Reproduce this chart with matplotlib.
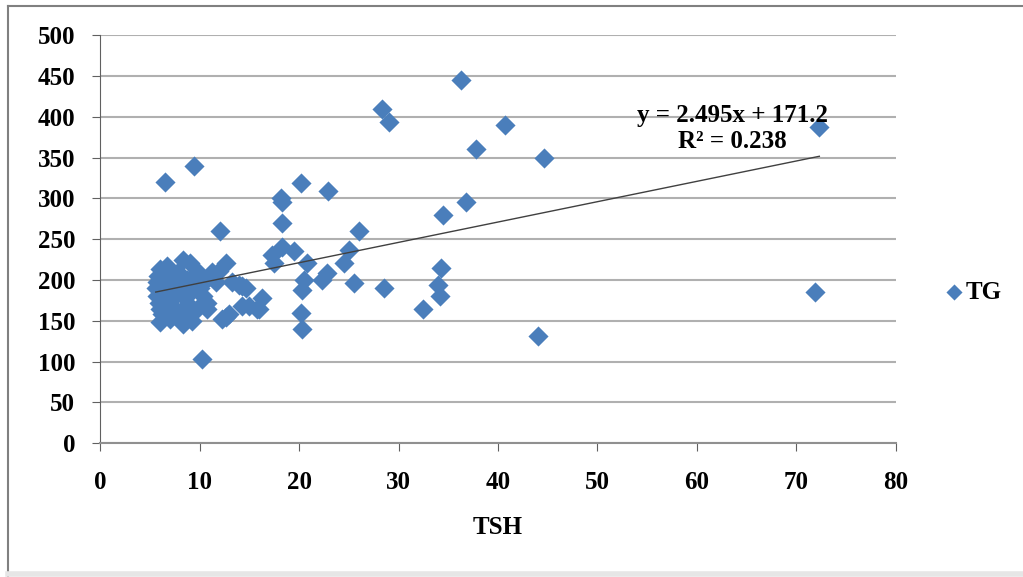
import matplotlib.pyplot as plt
from matplotlib.lines import Line2D
import numpy as np

# TSH vs TG values
tsh = [6.5, 9.4, 10.2, 12.1,
       36.3, 28.3, 29.0, 40.7, 37.8, 44.6, 72.3, 71.9,
       20.2, 22.9, 18.2, 18.3, 36.8, 34.5, 18.3, 26.0,
       17.3, 18.3, 19.5, 17.5, 20.8, 25.0, 24.5, 34.3, 22.8, 22.3,
       20.5, 20.3, 25.5, 28.5, 34.0, 34.2, 32.5, 16.3, 16.0, 20.2,
       20.3, 44.0,
       6.0, 8.3, 9.0, 12.7, 12.0, 11.0, 14.0, 14.7, 5.7, 5.7,
       6.0, 6.0, 7.0, 8.3, 8.0, 9.7, 10.7, 10.3, 9.0, 7.3,
       7.3, 6.7, 11.7, 12.3, 13.0, 15.0, 15.8, 14.3, 13.3, 14.3,
       11.3, 10.7, 12.7, 5.8, 6.3, 6.5, 6.8, 7.0, 7.5, 7.8,
       8.0, 8.5, 8.7, 9.3, 9.5, 6.2, 7.2, 8.5, 9.8, 10.0,
       5.6, 5.9, 7.6, 8.8, 9.2, 10.5]
tg = [320, 340, 103, 260,
      445, 410, 394, 390, 360, 350, 388, 185,
      319, 309, 300, 295, 295, 280, 270, 260,
      231, 240, 235, 221, 221, 237, 221, 215, 209, 200,
      200, 188, 196, 190, 194, 180, 165, 178, 164, 160,
      140, 131,
      213, 225, 221, 221, 211, 204, 194, 190, 197, 180,
      164, 149, 152, 146, 155, 164, 172, 180, 185, 188,
      204, 217, 197, 152, 158, 168, 164, 168, 197, 192,
      210, 164, 155, 205, 185, 170, 195, 175, 165, 210,
      190, 178, 200, 205, 195, 158, 160, 162, 210, 190,
      190, 172, 182, 170, 150, 200]

# trendline from the equation shown on the chart
slope = 2.495
intercept = 171.2
r2 = 0.238

blue = "#4a7ebb"
plt.rcParams["font.family"] = ["Liberation Serif", "DejaVu Serif"]
plt.rcParams["font.weight"] = "bold"
fs = 18

fig = plt.figure(figsize=(10.23, 5.77), dpi=100)
ax = fig.add_axes([0.0978, 0.232, 0.778, 0.707])

ax.scatter(tsh, tg, marker="D", s=105, color=blue, zorder=3, label="TG", linewidths=0)

xl = np.array([min(tsh), max(tsh)])
ax.plot(xl, slope * xl + intercept, color="#404040", lw=1, zorder=4)

ax.set_xlim(0, 80)
ax.set_ylim(0, 500)
ax.set_xticks(range(0, 81, 10))
ax.set_yticks(range(0, 501, 50))
ax.grid(axis="y", color="#b0b0b0", lw=1.5)
ax.set_axisbelow(True)
for s in ["top", "right"]:
    ax.spines[s].set_visible(False)
ax.spines["left"].set_color("#606060")
ax.spines["bottom"].set_color("#909090")
ax.spines["bottom"].set_linewidth(1.5)
ax.tick_params(axis="both", labelsize=fs, colors="#606060", labelcolor="black", length=6)
ax.tick_params(axis="x", pad=14)
ax.tick_params(axis="y", pad=12)
ax.set_xlabel("TSH", fontsize=fs, fontweight="bold", labelpad=16)

ax.text(63.6, 386, "y = %.3fx + %.1f\nR² = %.3f" % (slope, intercept, r2),
        ha="center", va="center", fontsize=fs, fontweight="bold", linespacing=1.15, zorder=5)

ax.legend(loc="center left", bbox_to_anchor=(1.062, 0.37), frameon=False,
          fontsize=fs, handlelength=0.7, handletextpad=0.1, markerscale=0.8,
          borderaxespad=0, borderpad=0)

# outer chart frame
fig.add_artist(Line2D([8 / 1023, 8 / 1023], [0, 1 - 6 / 577], color="#808080", lw=1.5))
fig.add_artist(Line2D([8 / 1023, 1], [1 - 6 / 577, 1 - 6 / 577], color="#808080", lw=1.5))
fig.add_artist(Line2D([8 / 1023, 1], [3 / 577, 3 / 577], color="#e6e6e6", lw=4))

plt.savefig("out.png", dpi=100)
